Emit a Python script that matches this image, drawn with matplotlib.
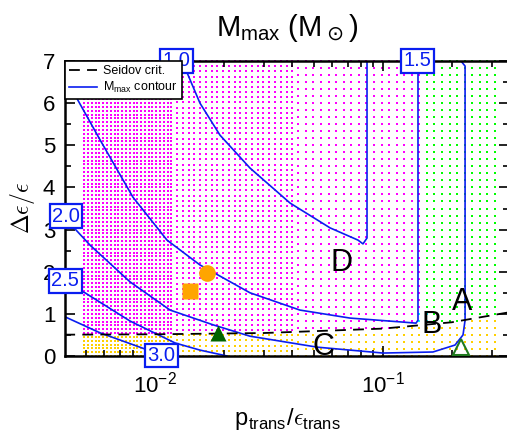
import numpy as np
import matplotlib
matplotlib.use("Agg")
import matplotlib.pyplot as plt

plt.rcParams['font.family'] = ['Liberation Sans', 'DejaVu Sans']
plt.rcParams['mathtext.fontset'] = 'dejavusans'

# --- data ---
# Seidov criterion line
seidov_x = [0.004, 0.01, 0.03, 0.1, 0.2, 0.36]
seidov_y = [0.506, 0.515, 0.545, 0.65, 0.80, 1.04]

# M_max contours
c10_x = [0.01327, 0.01575, 0.01928, 0.0261, 0.0391, 0.0586, 0.0777, 0.0817, 0.0851, 0.0851]
c10_y = [6.95, 6.00, 5.24, 4.46, 3.63, 3.04, 2.75, 2.66, 2.80, 7.0]
c15_x = [0.00432, 0.00459, 0.00574, 0.0080, 0.01129, 0.01575, 0.0261, 0.0432, 0.0716, 0.1187, 0.1396, 0.1424, 0.1424]
c15_y = [6.43, 6.07, 5.13, 3.77, 2.75, 2.16, 1.50, 1.09, 0.90, 0.81, 0.78, 0.85, 7.0]
c20_x = [0.00418, 0.00519, 0.00777, 0.01164, 0.01797, 0.0261, 0.0514, 0.1, 0.1656, 0.207, 0.2244, 0.2291, 0.2291, 0.2198]
c20_y = [3.18, 2.63, 1.76, 1.09, 0.74, 0.47, 0.21, 0.07, 0.095, 0.26, 0.50, 0.85, 6.88, 7.0]
c25_x = [0.00432, 0.00493, 0.00777, 0.01224, 0.01575, 0.0207]
c25_y = [1.64, 1.50, 0.83, 0.31, 0.14, 0.0]
c30_x = [0.00403, 0.00574, 0.00932, 0.01106]
c30_y = [0.93, 0.55, 0.14, 0.0]

contour_labels = ['1.0', '1.5', '2.0', '2.5', '3.0']
label_x = [0.01243, 0.1416, 0.00407, 0.00404, 0.01068]
label_y = [7.0, 7.0, 3.32, 1.78, 0.01]

# model grid blocks: (x start, x end, columns, rows, dot size)
grid_blocks = [(0.0049, 0.0118, 24, 78, 3.2),
               (0.0125, 0.040, 21, 58, 4.3),
               (0.0425, 0.31, 27, 43, 4.3)]
green_from = 0.15
cyan_box = (0.135, 0.156, 0.3)

# markers
circle_pt = (0.01691, 1.97)
square_pt = (0.01424, 1.54)
tri_pt = (0.01889, 0.54)
open_tri_pt = (0.2188, 0.21)

letters = ['D', 'A', 'B', 'C']
letter_x = [0.0655, 0.222, 0.164, 0.0546]
letter_y = [2.21, 1.28, 0.74, 0.21]

# --- figure ---
fig = plt.figure(figsize=(5.07, 4.34), dpi=100)
ax = fig.add_axes([65/507, 1-356/434, (509-65)/507, (356-61)/434])
ax.set_xscale('log')

# grid of models coloured by region
for x0, x1, nc, nr, sz in grid_blocks:
    gx, gy = np.meshgrid(np.geomspace(x0, x1, nc), np.linspace(0, 7, nr))
    gx, gy = gx.ravel(), gy.ravel()
    s = np.interp(np.log10(gx), np.log10(seidov_x), seidov_y)
    below = gy < s
    cyan = (~below) & (gx > cyan_box[0]) & (gx < cyan_box[1]) & (gy < s + cyan_box[2])
    green = (~below) & (~cyan) & (gx >= green_from)
    mag = (~below) & (~cyan) & (gx < green_from)
    for m, c in [(below, '#ffd000'), (mag, '#ff00ff'), (green, '#00ff00'), (cyan, '#00ffff')]:
        ax.scatter(gx[m], gy[m], s=sz, c=c, marker='s', linewidths=0, zorder=1, clip_on=False)

ax.plot(seidov_x, seidov_y, 'k--', lw=1.3, dashes=(6, 4), zorder=3, label='Seidov crit.')
blue = '#0a1ef0'
ax.plot(c10_x, c10_y, color=blue, lw=1.2, zorder=2, label=r'M$_\mathregular{max}$ contour')
for cx, cy in [(c15_x, c15_y), (c20_x, c20_y), (c25_x, c25_y), (c30_x, c30_y)]:
    ax.plot(cx, cy, color=blue, lw=1.2, zorder=2)

for t, lx, ly in zip(contour_labels, label_x, label_y):
    ax.text(lx, ly, t, color=blue, fontsize=14.5, ha='center', va='center', zorder=6, clip_on=False,
            bbox=dict(boxstyle='square,pad=0.12', fc='white', ec=blue, lw=1.6))

ax.plot(*circle_pt, 'o', color='#ffa500', ms=12, mec='none', zorder=4)
ax.plot(*square_pt, 's', color='#ffa500', ms=11.5, mec='none', zorder=4)
ax.plot(*tri_pt, '^', color='#006400', ms=12, mec='none', zorder=4)
ax.plot(*open_tri_pt, '^', mfc='none', mec='#1f7a1f', mew=1.5, ms=12, zorder=4)

for t, lx, ly in zip(letters, letter_x, letter_y):
    ax.text(lx, ly, t, fontsize=22, ha='center', va='center', zorder=5)

ax.set_xlim(0.00403, 0.357)
ax.set_ylim(0, 7)
ax.set_yticks(range(8))
ax.set_yticks(np.arange(0.5, 7, 1), minor=True)
ax.tick_params(which='both', direction='in', top=True, right=True, labelsize=16, width=1.2)
ax.tick_params(which='major', length=7, pad=7)
ax.tick_params(which='minor', length=4)
ax.tick_params(axis='x', which='major', pad=11)
for sp in ax.spines.values():
    sp.set_linewidth(1.8)

ax.set_title(r'M$_\mathregular{max}$ (M$_\odot$)', fontsize=21, pad=18)
ax.set_xlabel(r'p$_\mathregular{trans}$/$\epsilon_\mathregular{trans}$', fontsize=17, labelpad=6,
              math_fontfamily='cm')
ax.set_ylabel(r'$\Delta\epsilon/\epsilon$', fontsize=17, labelpad=4, math_fontfamily='cm')

leg = ax.legend(loc='upper left', fontsize=9, borderaxespad=0, fancybox=False, framealpha=1,
                edgecolor='black', handlelength=2.2, labelspacing=0.2, borderpad=0.35, handletextpad=0.5)
leg.get_frame().set_linewidth(1.2)
leg.set_zorder(10)

fig.savefig('out.png', dpi=100)
